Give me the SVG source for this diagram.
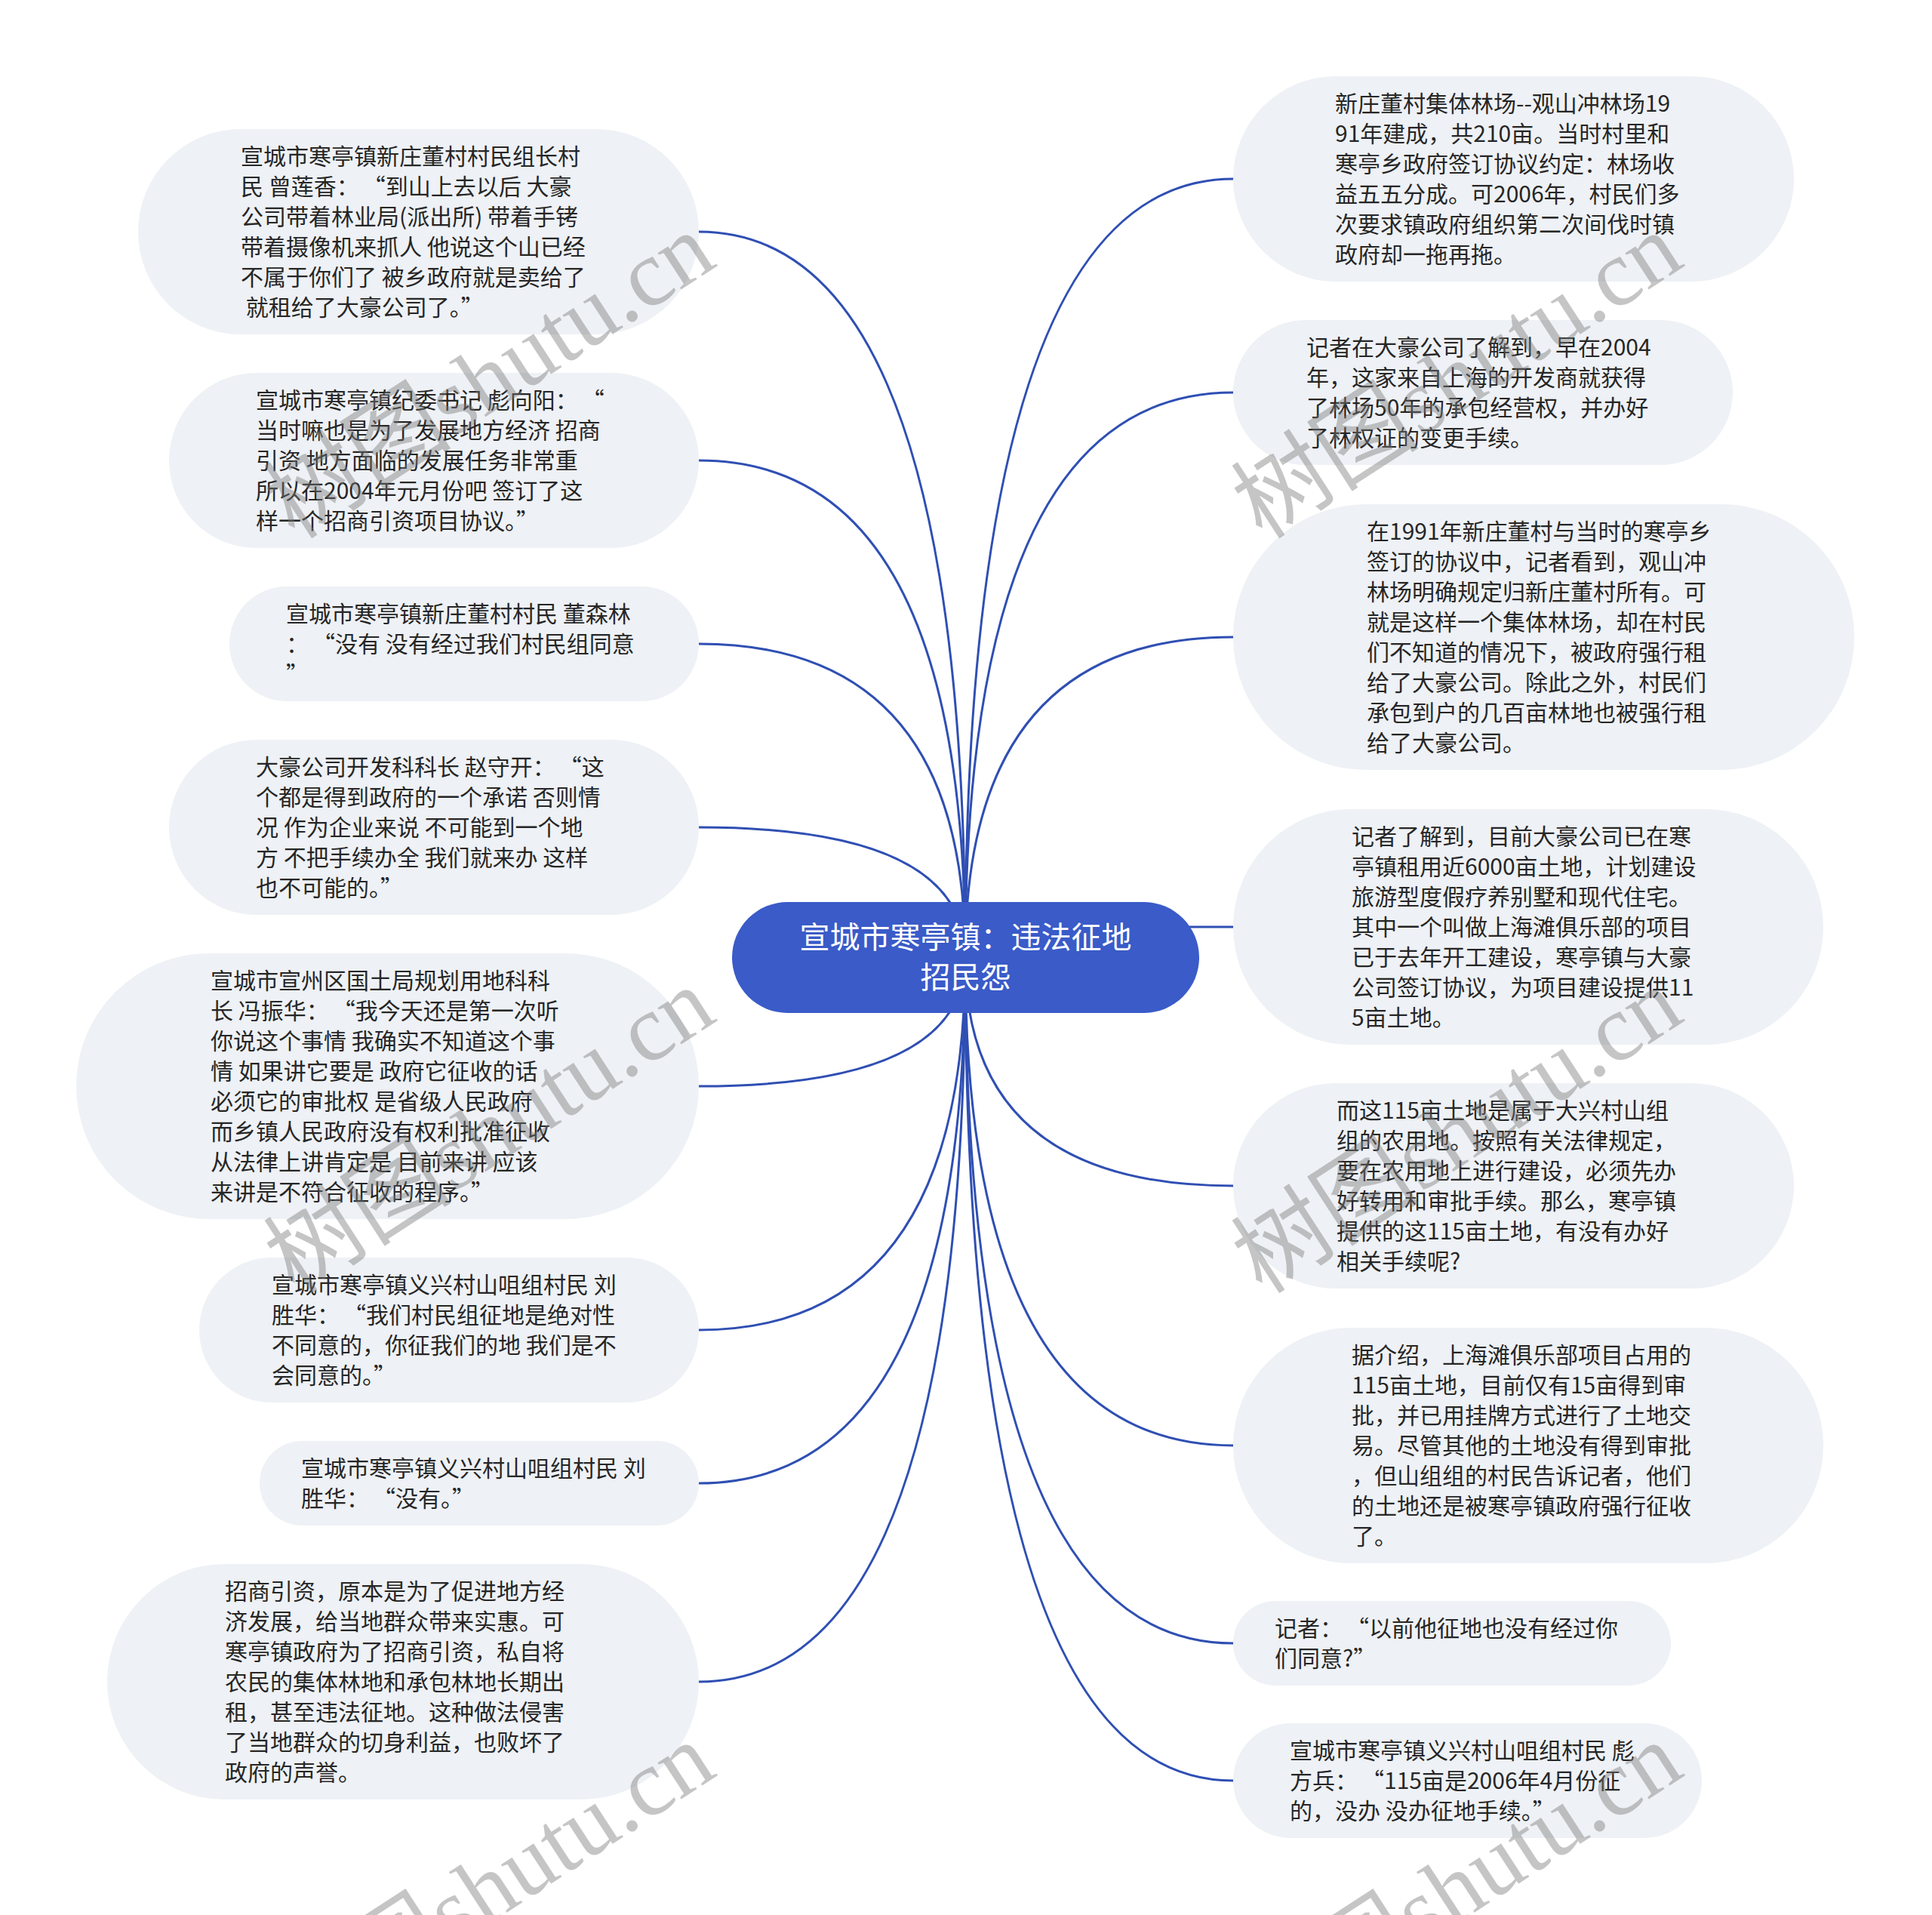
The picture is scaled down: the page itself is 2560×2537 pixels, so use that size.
<svg xmlns="http://www.w3.org/2000/svg" width="2560" height="2537" viewBox="0 0 2560 2537">
<style>
.node rect{fill:#eef1f5;}
.t{font-family:"Noto Sans CJK SC","Noto Sans",sans-serif;font-size:30px;fill:#262626;white-space:pre;}
.ct{font-family:"Noto Sans CJK SC","Noto Sans",sans-serif;font-size:40px;fill:#ffffff;text-anchor:middle;}
.edge{fill:none;stroke:#2f4fb3;stroke-width:3;}
.wm{font-family:"Liberation Serif","Noto Sans CJK SC",serif;font-size:125px;fill:#777777;opacity:0.42;text-anchor:middle;}
</style>
<rect width="2560" height="2537" fill="#ffffff"/>
<g id="connectors">
<path class="edge" d="M926,307 Q1279,307 1279,1268"/>
<path class="edge" d="M926,610 Q1279,610 1279,1268"/>
<path class="edge" d="M926,853 Q1279,853 1279,1268"/>
<path class="edge" d="M926,1096 Q1279,1096 1279,1268"/>
<path class="edge" d="M926,1439 Q1279,1439 1279,1268"/>
<path class="edge" d="M926,1762 Q1279,1762 1279,1268"/>
<path class="edge" d="M926,1965 Q1279,1965 1279,1268"/>
<path class="edge" d="M926,2228 Q1279,2228 1279,1268"/>
<path class="edge" d="M1634,237 Q1279,237 1279,1268"/>
<path class="edge" d="M1634,520 Q1279,520 1279,1268"/>
<path class="edge" d="M1634,844 Q1279,844 1279,1268"/>
<path class="edge" d="M1634,1228 L1279,1228"/>
<path class="edge" d="M1634,1571 Q1279,1571 1279,1268"/>
<path class="edge" d="M1634,1915 Q1279,1915 1279,1268"/>
<path class="edge" d="M1634,2177 Q1279,2177 1279,1268"/>
<path class="edge" d="M1634,2359 Q1279,2359 1279,1268"/>
</g>
<g id="center" class="center">
<rect x="970" y="1195" width="619" height="147" rx="73.5" fill="#3a5bc8"/>
<text class="ct" x="1279.5" y="1256">宣城市寒亭镇：违法征地</text>
<text class="ct" x="1279.5" y="1309">招民怨</text>
</g>
<g id="L1" class="node"><rect x="183" y="171" width="743" height="272" rx="136"/>
<text class="t"><tspan x="319" y="218">宣城市寒亭镇新庄董村村民组长村</tspan><tspan x="319" y="258">民 曾莲香：<tspan dx="20">“</tspan>到山上去以后 大豪</tspan><tspan x="319" y="298">公司带着林业局(派出所) 带着手铐</tspan><tspan x="319" y="338">带着摄像机来抓人 他说这个山已经</tspan><tspan x="319" y="378">不属于你们了 被乡政府就是卖给了</tspan><tspan x="319" y="418"> 就租给了大豪公司了。”</tspan></text></g>
<g id="L2" class="node"><rect x="224" y="494" width="702" height="232" rx="116"/>
<text class="t"><tspan x="339" y="541">宣城市寒亭镇纪委书记 彪向阳：<tspan dx="20">“</tspan></tspan><tspan x="339" y="581">当时嘛也是为了发展地方经济 招商</tspan><tspan x="339" y="621">引资 地方面临的发展任务非常重</tspan><tspan x="339" y="661">所以在2004年元月份吧 签订了这</tspan><tspan x="339" y="701">样一个招商引资项目协议。”</tspan></text></g>
<g id="L3" class="node"><rect x="304" y="777" width="622" height="152" rx="76"/>
<text class="t"><tspan x="379" y="824">宣城市寒亭镇新庄董村村民 董森林</tspan><tspan x="379" y="864">：<tspan dx="20">“</tspan>没有 没有经过我们村民组同意</tspan><tspan x="379" y="904">”</tspan></text></g>
<g id="L4" class="node"><rect x="224" y="980" width="702" height="232" rx="116"/>
<text class="t"><tspan x="339" y="1027">大豪公司开发科科长 赵守开：<tspan dx="20">“</tspan>这</tspan><tspan x="339" y="1067">个都是得到政府的一个承诺 否则情</tspan><tspan x="339" y="1107">况 作为企业来说 不可能到一个地</tspan><tspan x="339" y="1147">方 不把手续办全 我们就来办 这样</tspan><tspan x="339" y="1187">也不可能的。”</tspan></text></g>
<g id="L5" class="node"><rect x="101" y="1263" width="825" height="352" rx="176"/>
<text class="t"><tspan x="279" y="1310">宣城市宣州区国土局规划用地科科</tspan><tspan x="279" y="1350">长 冯振华：<tspan dx="20">“</tspan>我今天还是第一次听</tspan><tspan x="279" y="1390">你说这个事情 我确实不知道这个事</tspan><tspan x="279" y="1430">情 如果讲它要是 政府它征收的话</tspan><tspan x="279" y="1470">必须它的审批权 是省级人民政府</tspan><tspan x="279" y="1510">而乡镇人民政府没有权利批准征收</tspan><tspan x="279" y="1550">从法律上讲肯定是 目前来讲 应该</tspan><tspan x="279" y="1590">来讲是不符合征收的程序。”</tspan></text></g>
<g id="L6" class="node"><rect x="264" y="1666" width="662" height="192" rx="96"/>
<text class="t"><tspan x="360" y="1713">宣城市寒亭镇义兴村山咀组村民 刘</tspan><tspan x="360" y="1753">胜华：<tspan dx="20">“</tspan>我们村民组征地是绝对性</tspan><tspan x="360" y="1793">不同意的，你征我们的地 我们是不</tspan><tspan x="360" y="1833">会同意的。”</tspan></text></g>
<g id="L7" class="node"><rect x="344" y="1909" width="582" height="112" rx="56"/>
<text class="t"><tspan x="399" y="1956">宣城市寒亭镇义兴村山咀组村民 刘</tspan><tspan x="399" y="1996">胜华：<tspan dx="20">“</tspan>没有。”</tspan></text></g>
<g id="L8" class="node"><rect x="142" y="2072" width="784" height="312" rx="156"/>
<text class="t"><tspan x="298" y="2119">招商引资，原本是为了促进地方经</tspan><tspan x="298" y="2159">济发展，给当地群众带来实惠。可</tspan><tspan x="298" y="2199">寒亭镇政府为了招商引资，私自将</tspan><tspan x="298" y="2239">农民的集体林地和承包林地长期出</tspan><tspan x="298" y="2279">租，甚至违法征地。这种做法侵害</tspan><tspan x="298" y="2319">了当地群众的切身利益，也败坏了</tspan><tspan x="298" y="2359">政府的声誉。</tspan></text></g>
<g id="R1" class="node"><rect x="1634" y="101" width="743" height="272" rx="136"/>
<text class="t"><tspan x="1769" y="148">新庄董村集体林场--观山冲林场19</tspan><tspan x="1769" y="188">91年建成，共210亩。当时村里和</tspan><tspan x="1769" y="228">寒亭乡政府签订协议约定：林场收</tspan><tspan x="1769" y="268">益五五分成。可2006年，村民们多</tspan><tspan x="1769" y="308">次要求镇政府组织第二次间伐时镇</tspan><tspan x="1769" y="348">政府却一拖再拖。</tspan></text></g>
<g id="R2" class="node"><rect x="1634" y="424" width="662" height="192" rx="96"/>
<text class="t"><tspan x="1731" y="471">记者在大豪公司了解到，早在2004</tspan><tspan x="1731" y="511">年，这家来自上海的开发商就获得</tspan><tspan x="1731" y="551">了林场50年的承包经营权，并办好</tspan><tspan x="1731" y="591">了林权证的变更手续。</tspan></text></g>
<g id="R3" class="node"><rect x="1634" y="668" width="823" height="352" rx="176"/>
<text class="t"><tspan x="1811" y="715">在1991年新庄董村与当时的寒亭乡</tspan><tspan x="1811" y="755">签订的协议中，记者看到，观山冲</tspan><tspan x="1811" y="795">林场明确规定归新庄董村所有。可</tspan><tspan x="1811" y="835">就是这样一个集体林场，却在村民</tspan><tspan x="1811" y="875">们不知道的情况下，被政府强行租</tspan><tspan x="1811" y="915">给了大豪公司。除此之外，村民们</tspan><tspan x="1811" y="955">承包到户的几百亩林地也被强行租</tspan><tspan x="1811" y="995">给了大豪公司。</tspan></text></g>
<g id="R4" class="node"><rect x="1634" y="1072" width="782" height="312" rx="156"/>
<text class="t"><tspan x="1791" y="1119">记者了解到，目前大豪公司已在寒</tspan><tspan x="1791" y="1159">亭镇租用近6000亩土地，计划建设</tspan><tspan x="1791" y="1199">旅游型度假疗养别墅和现代住宅。</tspan><tspan x="1791" y="1239">其中一个叫做上海滩俱乐部的项目</tspan><tspan x="1791" y="1279">已于去年开工建设，寒亭镇与大豪</tspan><tspan x="1791" y="1319">公司签订协议，为项目建设提供11</tspan><tspan x="1791" y="1359">5亩土地。</tspan></text></g>
<g id="R5" class="node"><rect x="1634" y="1435" width="743" height="272" rx="136"/>
<text class="t"><tspan x="1771" y="1482">而这115亩土地是属于大兴村山组</tspan><tspan x="1771" y="1522">组的农用地。按照有关法律规定，</tspan><tspan x="1771" y="1562">要在农用地上进行建设，必须先办</tspan><tspan x="1771" y="1602">好转用和审批手续。那么，寒亭镇</tspan><tspan x="1771" y="1642">提供的这115亩土地，有没有办好</tspan><tspan x="1771" y="1682">相关手续呢?</tspan></text></g>
<g id="R6" class="node"><rect x="1634" y="1759" width="782" height="312" rx="156"/>
<text class="t"><tspan x="1791" y="1806">据介绍，上海滩俱乐部项目占用的</tspan><tspan x="1791" y="1846">115亩土地，目前仅有15亩得到审</tspan><tspan x="1791" y="1886">批，并已用挂牌方式进行了土地交</tspan><tspan x="1791" y="1926">易。尽管其他的土地没有得到审批</tspan><tspan x="1791" y="1966">，但山组组的村民告诉记者，他们</tspan><tspan x="1791" y="2006">的土地还是被寒亭镇政府强行征收</tspan><tspan x="1791" y="2046">了。</tspan></text></g>
<g id="R7" class="node"><rect x="1634" y="2121" width="580" height="112" rx="56"/>
<text class="t"><tspan x="1689" y="2168">记者：<tspan dx="20">“</tspan>以前他征地也没有经过你</tspan><tspan x="1689" y="2208">们同意?”</tspan></text></g>
<g id="R8" class="node"><rect x="1634" y="2283" width="621" height="152" rx="76"/>
<text class="t"><tspan x="1709" y="2330">宣城市寒亭镇义兴村山咀组村民 彪</tspan><tspan x="1709" y="2370">方兵：<tspan dx="20">“</tspan>115亩是2006年4月份征</tspan><tspan x="1709" y="2410">的，没办 没办征地手续。”</tspan></text></g>
<g id="watermark">
<text class="wm" x="650" y="540" transform="rotate(-33 650 500)">树图shutu.cn</text>
<text class="wm" x="1932" y="540" transform="rotate(-33 1932 500)">树图shutu.cn</text>
<text class="wm" x="650" y="1540" transform="rotate(-33 650 1500)">树图shutu.cn</text>
<text class="wm" x="1932" y="1540" transform="rotate(-33 1932 1500)">树图shutu.cn</text>
<text class="wm" x="650" y="2540" transform="rotate(-33 650 2500)">树图shutu.cn</text>
<text class="wm" x="1932" y="2540" transform="rotate(-33 1932 2500)">树图shutu.cn</text>
</g>
</svg>
